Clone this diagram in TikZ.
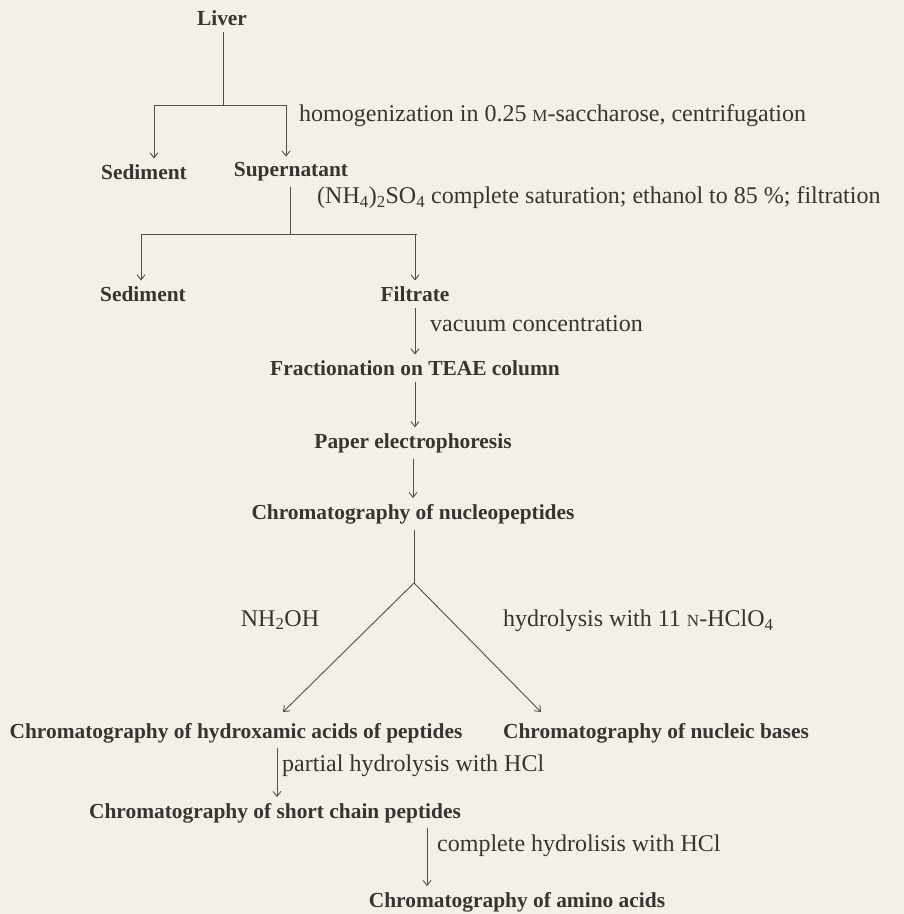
\documentclass[tikz,border=0pt]{standalone}
\usepackage{fontspec}
\setmainfont{Liberation Serif}
\usetikzlibrary{arrows.meta}
\definecolor{paper}{RGB}{243,240,231}
\definecolor{ink}{RGB}{55,53,50}
\definecolor{wire}{RGB}{80,78,75}
\newcommand\minicap[1]{{\fontsize{17}{18}\selectfont #1}}
\tikzset{
  stage/.style={font=\fontsize{21.4}{24}\selectfont\bfseries, text=ink, inner sep=0pt, outer ysep=6pt},
  note/.style={font=\fontsize{24}{26}\selectfont, text=ink, inner sep=0pt, anchor=west},
  bar/.style={draw=wire, line width=0.9pt},
  flow/.style={bar, -{Straight Barb[length=5pt,width=8pt]}},
}
\begin{document}
\begin{tikzpicture}[x=1pt,y=-1pt]
  \fill[paper] (0,0) rectangle (904,914);
  \useasboundingbox (0,0) rectangle (904,914);
  % stages of the preparation
  \node[stage] (liver) at (222,18) {Liver};
  \node[stage] (sed1) at (144,172) {Sediment};
  \node[stage] (super) at (291,172) {Supernatant};
  \node[stage] (sed2) at (143,294) {Sediment};
  \node[stage] (filtrate) at (415,294) {Filtrate};
  \node[stage] (frac) at (415,368) {Fractionation on TEAE column};
  \node[stage] (paperel) at (413,443) {Paper electrophoresis};
  \node[stage] (nucleo) at (413,514) {Chromatography of nucleopeptides};
  \node[stage] (hydrox) at (236,733) {Chromatography of hydroxamic acids of peptides};
  \node[stage] (bases) at (656,733) {Chromatography of nucleic bases};
  \node[stage] (short) at (275,813) {Chromatography of short chain peptides};
  \node[stage] (amino) at (517,902) {Chromatography of amino acids};
  % treatments
  \node[note] (homog) at (299,116) {homogenization in 0.25 \minicap{M}-saccharose, centrifugation};
  \node[note] (satur) at (317,198) {(NH\textsubscript{4})\textsubscript{2}SO\textsubscript{4} complete saturation; ethanol to 85 \%; filtration};
  \node[note] (vacuum) at (430,324) {vacuum concentration};
  \node[note, anchor=center] (nhoh) at (280,620) {NH\textsubscript{2}OH};
  \node[note] (hclo) at (503,621) {hydrolysis with 11 \minicap{N}-HClO\textsubscript{4}};
  \node[note] (partial) at (282,766) {partial hydrolysis with HCl};
  \node[note] (complete) at (437,846) {complete hydrolisis with HCl};
  % branch points
  \coordinate (fork1) at (223,105);
  \coordinate (fork1l) at (154,105);
  \coordinate (fork1r) at (287,105);
  \coordinate (fork2) at (290,234);
  \coordinate (fork2l) at (141,234);
  \coordinate (fork2r) at (417,234);
  \coordinate (apex) at (414,583);
  \coordinate (tipl) at (283,712);
  \coordinate (tipr) at (541,712);
  % connectors
  \draw[bar] (fork1 |- liver.south) -- (fork1);
  \draw[bar] (fork1l) -- (fork1r);
  \draw[flow] (fork1l) -- (fork1l |- sed1.north);
  \draw[flow] (286,105) -- (286,105 |- super.north);
  \draw[bar] (fork2 |- super.south) -- (fork2);
  \draw[bar] (fork2l) -- (fork2r);
  \draw[flow] (fork2l) -- (fork2l |- sed2.north);
  \draw[flow] (filtrate.north |- fork2) -- (filtrate.north);
  \draw[flow] (filtrate) -- (frac);
  \draw[flow] (frac) -- (frac.south |- paperel.north);
  \draw[flow] (paperel) -- (paperel.south |- nucleo.north);
  \draw[bar] (apex |- nucleo.south) -- (apex);
  \draw[flow] (apex) -- (tipl);
  \draw[flow] (apex) -- (tipr);
  \draw[flow] (277,748) -- (277,748 |- short.north);
  \draw[flow] (427,828) -- (427,828 |- amino.north);
\end{tikzpicture}
\end{document}
